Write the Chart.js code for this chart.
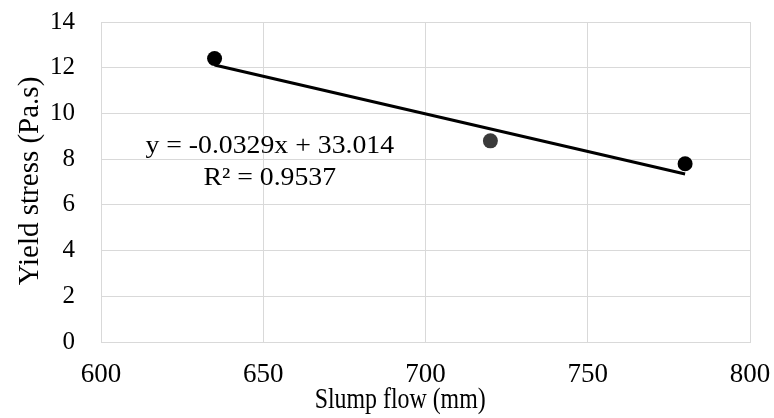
<!DOCTYPE html>
<html>
<head>
<meta charset="utf-8">
<script src="https://cdn.jsdelivr.net/npm/chart.js@4.4.1/dist/chart.umd.min.js"></script>
<style>
html,body{margin:0;padding:0;background:#fff;}
#wrap{width:774px;height:418px;}
</style>
</head>
<body>
<div id="wrap"><canvas id="c" width="774" height="418"></canvas></div>
<script>
// Data
const slumpFlow = [635, 720, 780];
const yieldStress = [12.4, 8.8, 7.8];
const pointColors = ['#000000', '#3a3a3a', '#000000'];
const trendSlope = -0.0329;
const trendIntercept = 33.014;
const trendXRange = [635, 780];
const xTicks = [600, 650, 700, 750, 800];
const yTicks = [0, 2, 4, 6, 8, 10, 12, 14];
const xTitle = 'Slump flow (mm)';
const yTitle = 'Yield stress (Pa.s)';
const equationLines = ['y = -0.0329x + 33.014', 'R\u00B2 = 0.9537'];
const equationAnchor = {x: 652, y: [8.27, 6.87]};

const FONT = '"Liberation Serif", "Times New Roman", serif';

const scatterData = slumpFlow.map((x, i) => ({x: x, y: yieldStress[i]}));
const trendData = trendXRange.map(x => ({x: x, y: trendSlope * x + trendIntercept}));

function drawText(ctx, text, x, y, size, sx, rot) {
  ctx.save();
  ctx.translate(x, y);
  if (rot) ctx.rotate(rot);
  ctx.scale(sx, 1);
  ctx.font = size + 'px ' + FONT;
  ctx.fillStyle = '#000';
  ctx.textAlign = 'center';
  ctx.textBaseline = 'alphabetic';
  ctx.fillText(text, 0, 0);
  ctx.restore();
}

const textPlugin = {
  id: 'texts',
  afterDatasetsDraw(chart) {
    const {ctx, scales} = chart;
    // trendline equation
    equationLines.forEach((t, i) => {
      drawText(ctx, t, scales.x.getPixelForValue(equationAnchor.x), scales.y.getPixelForValue(equationAnchor.y[i]), 25, 1.11, 0);
    });
    // axis titles
    drawText(ctx, xTitle, chart.width * 0.517, chart.height - 10, 29, 0.823, 0);
    drawText(ctx, yTitle, 38, (scales.y.top + scales.y.bottom) / 2 - 1, 29, 1, -Math.PI / 2);
  }
};

new Chart(document.getElementById('c'), {
  type: 'scatter',
  data: {
    datasets: [
      {
        label: 'Yield stress',
        data: scatterData,
        backgroundColor: pointColors,
        borderColor: pointColors,
        pointRadius: 7.5,
        pointHoverRadius: 7.5,
        borderWidth: 0,
        order: 0
      },
      {
        label: 'Trend',
        type: 'line',
        data: trendData,
        borderColor: '#000',
        borderWidth: 3,
        pointRadius: 0,
        fill: false,
        order: 1
      }
    ]
  },
  options: {
    responsive: false,
    animation: false,
    events: [],
    layout: {padding: {top: 22, right: 24, left: 0, bottom: 0}},
    plugins: {legend: {display: false}, tooltip: {enabled: false}},
    scales: {
      x: {
        type: 'linear',
        min: xTicks[0], max: xTicks[xTicks.length - 1],
        afterBuildTicks(s) { s.ticks = xTicks.map(v => ({value: v})); },
        afterFit(s) { s.height = 76; s.paddingLeft = 0; s.paddingRight = 0; },
        grid: {color: '#d9d9d9', lineWidth: 1, drawTicks: false},
        border: {color: '#d9d9d9'},
        ticks: {font: {family: FONT, size: 27}, color: '#000', padding: 17, maxRotation: 0},
        title: {display: false}
      },
      y: {
        type: 'linear',
        min: yTicks[0], max: yTicks[yTicks.length - 1],
        afterBuildTicks(s) { s.ticks = yTicks.map(v => ({value: v})); },
        afterFit(s) { s.width = 101; s.paddingTop = 0; s.paddingBottom = 0; },
        grid: {color: '#d9d9d9', lineWidth: 1, drawTicks: false},
        border: {color: '#d9d9d9'},
        ticks: {font: {family: FONT, size: 25}, color: '#000', padding: 26},
        title: {display: false}
      }
    }
  },
  plugins: [textPlugin]
});
</script>
</body>
</html>
